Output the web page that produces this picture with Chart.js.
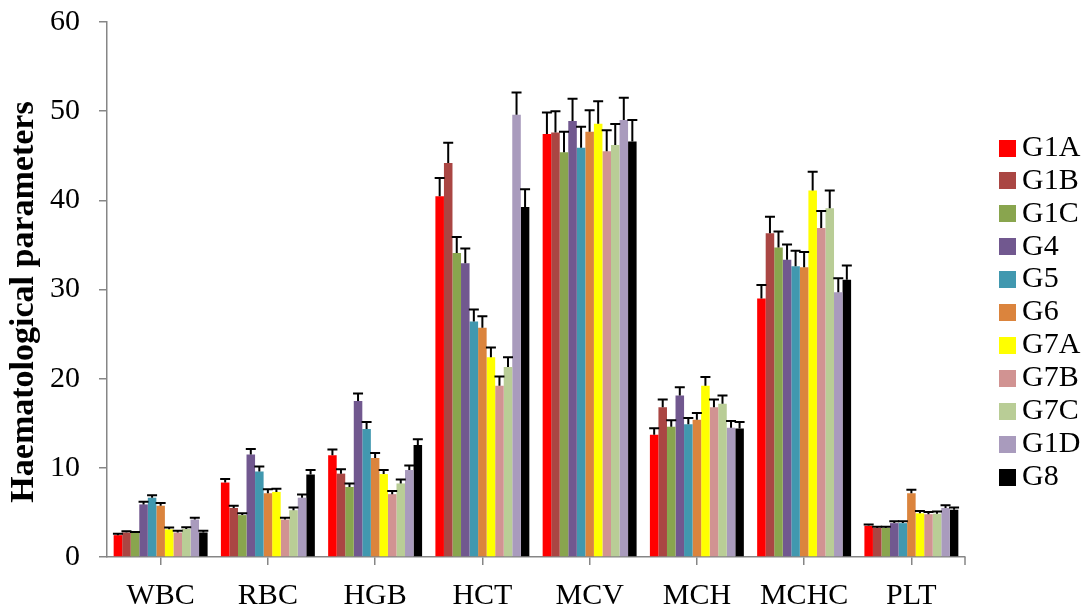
<!DOCTYPE html>
<html>
<head>
<meta charset="utf-8">
<script src="https://cdn.jsdelivr.net/npm/chart.js@4.4.1/dist/chart.umd.min.js"></script>
<style>
html,body{margin:0;padding:0;background:#fff;}
#wrap{width:1088px;height:611px;position:relative;}
</style>
</head>
<body>
<div id="wrap"><canvas id="c" width="1088" height="611"></canvas></div>
<script>
// Categories and tick labels
const categories = ['WBC','RBC','HGB','HCT','MCV','MCH','MCHC','PLT'];
const seriesNames = ['G1A','G1B','G1C','G4','G5','G6','G7A','G7B','G7C','G1D','G8'];
const yTickValues = [0,10,20,30,40,50,60];
const yAxisTitle = 'Haematological parameters';

// Series values (order: WBC, RBC, HGB, HCT, MCV, MCH, MCHC, PLT)
const g1a = [2.45, 8.35, 11.4, 40.45, 47.45, 13.7, 29.0, 3.5];
const g1b = [2.75, 5.5, 9.35, 44.2, 47.6, 16.8, 36.3, 3.25];
const g1c = [2.7, 4.7, 7.85, 34.1, 45.4, 14.6, 34.7, 3.25];
const g4 = [5.9, 11.5, 17.5, 32.95, 48.9, 18.1, 33.35, 3.8];
const g5 = [6.65, 9.6, 14.35, 26.4, 45.9, 14.9, 32.6, 3.8];
const g6 = [5.75, 7.15, 11.1, 25.7, 47.7, 15.4, 32.5, 7.15];
const g7a = [3.1, 7.3, 9.3, 22.4, 48.6, 19.2, 41.1, 4.9];
const g7b = [2.75, 4.2, 7.05, 19.2, 45.5, 16.8, 36.9, 4.8];
const g7c = [3.15, 5.25, 8.25, 21.3, 46.2, 17.2, 39.1, 4.85];
const g1d = [4.2, 6.65, 9.75, 49.6, 49.0, 14.5, 29.7, 5.5];
const g8 = [2.75, 9.25, 12.55, 39.25, 46.6, 14.4, 31.1, 5.3];

// Error values (upper error bars)
const g1aErr = [0.15, 0.4, 0.65, 2.05, 2.4, 0.75, 1.5, 0.15];
const g1bErr = [0.15, 0.25, 0.5, 2.25, 2.4, 0.85, 1.85, 0.15];
const g1cErr = [0.1, 0.2, 0.4, 1.8, 2.3, 0.75, 1.8, 0.15];
const g4Err = [0.3, 0.6, 0.85, 1.65, 2.5, 0.95, 1.7, 0.2];
const g5Err = [0.28, 0.55, 0.8, 1.35, 2.35, 0.7, 1.75, 0.2];
const g6Err = [0.3, 0.45, 0.55, 1.3, 2.4, 0.75, 1.7, 0.4];
const g7aErr = [0.2, 0.35, 0.45, 1.1, 2.5, 1.0, 2.1, 0.25];
const g7bErr = [0.2, 0.2, 0.35, 1.05, 2.35, 0.85, 1.9, 0.25];
const g7cErr = [0.2, 0.3, 0.45, 1.1, 2.35, 0.9, 2.0, 0.25];
const g1dErr = [0.2, 0.35, 0.5, 2.5, 2.5, 0.75, 1.55, 0.3];
const g8Err = [0.2, 0.5, 0.65, 2.0, 2.4, 0.75, 1.6, 0.25];

const seriesValues = [g1a,g1b,g1c,g4,g5,g6,g7a,g7b,g7c,g1d,g8];
const seriesErrors = [g1aErr,g1bErr,g1cErr,g4Err,g5Err,g6Err,g7aErr,g7bErr,g7cErr,g1dErr,g8Err];
const seriesColors = ['#FF0000','#AA4643','#89A54E','#71588F','#4198AF','#DB843D','#FFFF00','#D19392','#B9CD96','#A99BBD','#000000'];

const SERIF = '"Liberation Serif", "Times New Roman", serif';
const AXIS_GREY = '#868686';

const errorBarPlugin = {
  id: 'errorBars',
  afterDatasetsDraw(chart) {
    const ctx = chart.ctx;
    const yScale = chart.scales.y;
    ctx.save();
    ctx.strokeStyle = '#000';
    ctx.lineWidth = 2;
    chart.data.datasets.forEach((ds, i) => {
      const meta = chart.getDatasetMeta(i);
      meta.data.forEach((bar, j) => {
        const v = ds.data[j];
        const e = ds.errors[j];
        const yTop = yScale.getPixelForValue(v + e);
        const yBar = yScale.getPixelForValue(v);
        const x = bar.x;
        ctx.beginPath();
        ctx.moveTo(x, yBar);
        ctx.lineTo(x, yTop);
        ctx.moveTo(x - 5, yTop);
        ctx.lineTo(x + 5, yTop);
        ctx.stroke();
      });
    });
    // closing tick at the right end of the category axis
    const area = chart.chartArea;
    ctx.strokeStyle = AXIS_GREY;
    ctx.lineWidth = 1.5;
    ctx.beginPath();
    ctx.moveTo(area.right, area.bottom);
    ctx.lineTo(area.right, area.bottom + 8);
    ctx.stroke();
    ctx.restore();
  }
};

const sideLegendPlugin = {
  id: 'sideLegend',
  afterDraw(chart) {
    const ctx = chart.ctx;
    ctx.save();
    // legend
    ctx.font = '30px ' + SERIF;
    ctx.textBaseline = 'middle';
    ctx.textAlign = 'left';
    chart.data.datasets.forEach((ds, i) => {
      const y = 148 + i * 32.9;
      ctx.fillStyle = ds.backgroundColor;
      ctx.fillRect(999, Math.round(y - 8.5), 17, 17);
      ctx.fillStyle = '#000';
      ctx.fillText(ds.label, 1022, y);
    });
    // y axis title
    ctx.translate(24, 302);
    ctx.rotate(-Math.PI / 2);
    ctx.font = 'bold 34px ' + SERIF;
    ctx.textAlign = 'center';
    ctx.textBaseline = 'middle';
    ctx.fillStyle = '#000';
    ctx.fillText(yAxisTitle, 0, 0);
    ctx.restore();
  }
};

const datasets = seriesNames.map((name, i) => ({
  label: name,
  data: seriesValues[i],
  errors: seriesErrors[i],
  backgroundColor: seriesColors[i],
  borderWidth: 0,
  categoryPercentage: 0.876,
  barPercentage: 1.0
}));

new Chart(document.getElementById('c'), {
  type: 'bar',
  data: { labels: categories, datasets: datasets },
  options: {
    responsive: false,
    devicePixelRatio: 1,
    animation: false,
    layout: { padding: { left: 0, right: 123, top: 22, bottom: 0 } },
    plugins: {
      legend: { display: false },
      tooltip: { enabled: false }
    },
    scales: {
      x: {
        offset: true,
        grid: { display: true, drawOnChartArea: false, drawTicks: true, tickLength: 8, color: AXIS_GREY, lineWidth: 1.5, offset: false },
        border: { display: true, color: AXIS_GREY, width: 1.5 },
        ticks: { color: '#000', font: { family: SERIF, size: 30 }, padding: 13, maxRotation: 0 },
        afterFit(scale) { scale.height = 54; scale.paddingLeft = 0; scale.paddingRight = 0; }
      },
      y: {
        min: 0, max: 60,
        afterBuildTicks(scale) { scale.ticks = yTickValues.map(v => ({ value: v })); },
        grid: { display: true, drawOnChartArea: false, drawTicks: true, tickLength: 8, color: AXIS_GREY, lineWidth: 1.5 },
        border: { display: true, color: AXIS_GREY, width: 1.5 },
        ticks: { color: '#000', font: { family: SERIF, size: 30 }, padding: 19 },
        title: { display: false },
        afterFit(scale) { scale.width = 107; scale.paddingTop = 0; scale.paddingBottom = 0; }
      }
    }
  },
  plugins: [errorBarPlugin, sideLegendPlugin]
});
</script>
</body>
</html>
